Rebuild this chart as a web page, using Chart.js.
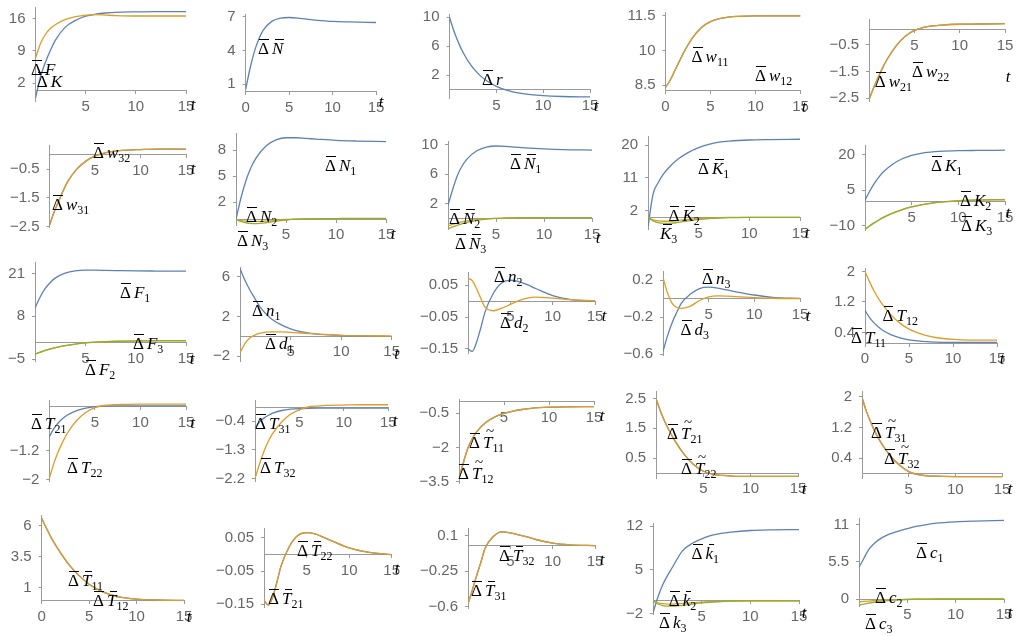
<!DOCTYPE html>
<html><head><meta charset="utf-8">
<script src="https://cdn.jsdelivr.net/npm/chart.js@4.4.1/dist/chart.umd.min.js"></script>
<style>
html,body{margin:0;padding:0;background:#fff;}
#wrap{position:relative;width:1025px;height:636px;overflow:hidden;background:#fff;}
#wrap canvas{position:absolute;}
.lab{position:absolute;font-family:'Liberation Serif','Times New Roman',serif;font-size:17px;line-height:17px;white-space:nowrap;color:#000;}
.d,.s{position:relative;display:inline-block;}
.s{font-style:italic;margin-left:3px;}
.d.b::before{content:'';position:absolute;left:1px;right:0;top:-1px;border-top:1.3px solid #000;}
.s.b::before{content:'';position:absolute;left:3px;right:-1px;top:-1px;border-top:1.3px solid #000;}
.s.tl::after{content:'~';position:absolute;left:3px;top:-11px;font-style:normal;font-size:15px;}
.lab sub{font-size:12px;vertical-align:-4px;line-height:0;}
.tx{position:absolute;font-family:'Liberation Serif','Times New Roman',serif;font-style:italic;font-size:17px;line-height:17px;transform:translate(-50%,-50%);}
</style></head><body><div id="wrap"></div>
<script>
// common time grid
const T = [0,0.5,1,1.5,2,3,4,5,6,7,8,10,12,15];
// row 1
const dK    = [-1.2,3.4,6.6,9.2,11.4,14.2,15.6,16.5,16.95,17.2,17.35,17.45,17.5,17.5];
const dF    = [7.45,10.6,12.6,13.9,14.7,15.8,16.4,16.75,16.85,16.75,16.65,16.55,16.55,16.55];
const dNbar = [0.55,2.4,3.9,5.0,5.8,6.6,6.9,6.95,6.9,6.8,6.72,6.6,6.55,6.5];
const dr    = [10,8.0,6.37,5.04,3.94,2.31,1.22,0.49,0.0,-0.33,-0.55,-0.8,-0.91,-0.97];
const dw11  = [8.4,8.7,9.1,9.5,9.9,10.55,11.0,11.25,11.38,11.45,11.48,11.5,11.5,11.5];
const dw12  = [8.4,8.7,9.1,9.5,9.9,10.55,11.0,11.25,11.38,11.45,11.48,11.5,11.5,11.5];
const dw21  = [-2.55,-2.12,-1.73,-1.37,-1.05,-0.55,-0.2,0.02,0.13,0.19,0.22,0.25,0.26,0.27];
const dw22  = [-2.55,-2.12,-1.73,-1.37,-1.05,-0.55,-0.2,0.02,0.13,0.19,0.22,0.25,0.26,0.27];
// row 2
const dw31  = [-2.45,-2.0,-1.62,-1.25,-0.93,-0.5,-0.22,-0.04,0.06,0.12,0.15,0.18,0.2,0.2];
const dw32  = [-2.45,-2.0,-1.62,-1.25,-0.93,-0.5,-0.22,-0.04,0.06,0.12,0.15,0.18,0.2,0.2];
const dN1   = [0,2.5,4.5,6.0,7.1,8.5,9.2,9.45,9.45,9.38,9.3,9.15,9.07,9.0];
const dN2   = [0,-0.12,-0.2,-0.24,-0.25,-0.2,-0.1,-0.02,0.03,0.06,0.07,0.08,0.08,0.08];
const dN3   = [0,-0.25,-0.4,-0.48,-0.5,-0.4,-0.22,-0.08,0.02,0.06,0.08,0.09,0.1,0.1];
const dNb1  = [1.8,4.0,5.9,7.2,8.1,9.2,9.7,9.85,9.8,9.7,9.6,9.45,9.35,9.3];
const dNb2  = [-1.0,-0.8,-0.6,-0.45,-0.32,-0.15,-0.05,0.02,0.06,0.09,0.1,0.12,0.12,0.12];
const dNb3  = [-1.4,-1.15,-0.9,-0.7,-0.52,-0.27,-0.1,0.0,0.05,0.08,0.1,0.12,0.12,0.12];
const dKb1  = [-2.5,6.5,9.6,11.9,13.6,16.2,18.0,19.3,20.2,20.8,21.1,21.4,21.5,21.6];
const dKb2  = [0,-0.6,-0.9,-1.0,-1.0,-0.8,-0.5,-0.25,-0.1,0,0.05,0.1,0.1,0.1];
const dKb3  = [0,-0.9,-1.4,-1.6,-1.6,-1.3,-0.9,-0.5,-0.25,-0.1,0,0.08,0.1,0.1];
const dK1   = [0.7,4.5,7.8,10.6,12.8,16.0,18.2,19.6,20.5,21.0,21.3,21.6,21.7,21.8];
const dK2   = [-11.5,-10.0,-8.7,-7.5,-6.4,-4.6,-3.2,-2.1,-1.2,-0.6,-0.1,0.5,0.8,0.9];
const dK3   = [-11.6,-10.1,-8.8,-7.6,-6.5,-4.7,-3.25,-2.1,-1.2,-0.55,-0.05,0.55,0.85,1.0];
// row 3
const dF1   = [10.5,13.8,16.4,18.2,19.6,21.1,21.8,22.0,22.0,21.95,21.9,21.8,21.75,21.7];
const dF2   = [-3.5,-2.9,-2.4,-1.95,-1.55,-0.95,-0.45,-0.1,0.1,0.25,0.35,0.45,0.5,0.5];
const dF3   = [-3.6,-3.0,-2.45,-2.0,-1.6,-0.95,-0.45,-0.1,0.12,0.28,0.4,0.52,0.58,0.6];
const dn1   = [6.8,5.6,4.6,3.75,2.9,1.85,1.2,0.75,0.47,0.3,0.19,0.08,0.03,0.0];
const dd1   = [-1.65,-0.7,-0.15,0.15,0.32,0.45,0.45,0.4,0.33,0.26,0.2,0.1,0.05,0.02];
const dn2   = [-0.15,-0.158,-0.13,-0.085,-0.035,0.025,0.058,0.066,0.062,0.052,0.04,0.018,0.006,0.0];
const dd2   = [0.072,0.065,0.04,0.01,-0.018,-0.03,-0.022,-0.01,0.002,0.01,0.013,0.01,0.005,0.001];
const dn3   = [-0.57,-0.4,-0.26,-0.15,-0.05,0.05,0.11,0.125,0.115,0.095,0.075,0.04,0.015,0.003];
const dd3   = [0.23,0.06,-0.05,-0.095,-0.105,-0.08,-0.02,0.02,0.03,0.028,0.022,0.012,0.005,0.001];
const dT11  = [0.98,0.8,0.66,0.55,0.46,0.34,0.26,0.21,0.18,0.16,0.15,0.14,0.14,0.14];
const dT12  = [2.0,1.74,1.5,1.3,1.13,0.85,0.64,0.49,0.39,0.32,0.27,0.22,0.2,0.2];
// row 4
const dT21  = [-0.82,-0.6,-0.44,-0.32,-0.23,-0.11,-0.04,0.0,0.015,0.02,0.02,0.02,0.02,0.02];
const dT22  = [-1.96,-1.55,-1.22,-0.95,-0.72,-0.38,-0.16,-0.03,0.03,0.05,0.06,0.07,0.07,0.07];
const dT31  = [-0.6,-0.42,-0.3,-0.21,-0.14,-0.06,-0.02,0.0,0.01,0.015,0.015,0.015,0.015,0.015];
const dT32  = [-2.2,-1.75,-1.35,-1.03,-0.78,-0.42,-0.18,-0.03,0.05,0.08,0.1,0.11,0.12,0.12];
const dTt11 = [-3.36,-2.65,-2.02,-1.6,-1.3,-0.9,-0.66,-0.51,-0.41,-0.34,-0.29,-0.24,-0.22,-0.21];
const dTt12 = [-3.36,-2.65,-2.02,-1.6,-1.3,-0.9,-0.66,-0.51,-0.41,-0.34,-0.29,-0.24,-0.22,-0.21];
const dTt21 = [2.5,2.05,1.68,1.36,1.08,0.62,0.28,0.06,-0.04,-0.08,-0.1,-0.11,-0.11,-0.11];
const dTt22 = [2.5,2.05,1.68,1.36,1.08,0.62,0.28,0.06,-0.04,-0.08,-0.1,-0.11,-0.11,-0.11];
const dTt31 = [1.98,1.6,1.3,1.04,0.82,0.47,0.22,0.05,-0.03,-0.06,-0.07,-0.08,-0.08,-0.08];
const dTt32 = [1.98,1.6,1.3,1.04,0.82,0.47,0.22,0.05,-0.03,-0.06,-0.07,-0.08,-0.08,-0.08];
// row 5
const dTb11 = [6.6,5.8,5.05,4.4,3.8,2.75,1.95,1.3,0.85,0.52,0.3,0.1,0.03,0.0];
const dTb12 = [6.6,5.8,5.05,4.4,3.8,2.75,1.95,1.3,0.85,0.52,0.3,0.1,0.03,0.0];
const dTb21 = [-0.138,-0.152,-0.13,-0.085,-0.035,0.025,0.058,0.066,0.062,0.052,0.041,0.02,0.008,0.0];
const dTb22 = [-0.138,-0.152,-0.13,-0.085,-0.035,0.025,0.058,0.066,0.062,0.052,0.041,0.02,0.008,0.0];
const dTb31 = [-0.57,-0.44,-0.3,-0.17,-0.03,0.09,0.135,0.125,0.105,0.085,0.06,0.025,0.008,0.0];
const dTb32 = [-0.57,-0.44,-0.3,-0.17,-0.03,0.09,0.135,0.125,0.105,0.085,0.06,0.025,0.008,0.0];
const dk1   = [-1.9,0.6,2.6,4.1,5.4,8.0,9.2,9.95,10.5,10.85,11.05,11.3,11.4,11.45];
const dk2   = [0,-0.3,-0.45,-0.5,-0.5,-0.42,-0.3,-0.2,-0.12,-0.06,-0.03,0,0.01,0.01];
const dk3   = [0,-0.5,-0.75,-0.85,-0.85,-0.7,-0.5,-0.32,-0.2,-0.1,-0.05,0,0.01,0.01];
const dc1   = [4.7,6.0,7.3,8.1,8.7,9.5,10.0,10.4,10.75,11.0,11.2,11.4,11.5,11.6];
const dc2   = [-0.4,-0.33,-0.27,-0.22,-0.18,-0.1,-0.05,-0.02,0,0.01,0.02,0.02,0.02,0.02];
const dc3   = [-0.9,-0.72,-0.57,-0.45,-0.35,-0.2,-0.1,-0.04,0,0.02,0.03,0.03,0.03,0.03];

// tick label sets
const X3 = [5,10,15], X4 = [0,5,10,15];

const COLORS = {b:'#5E81B5', o:'#E19C24', g:'#8FB032'};
const ORDER = {b:3, o:2, g:1};

// panel layout: rect = [left, top, right, bottom] of plot area
const PANELS = [
 {rect:[35.5,5,186,101], y:[-1.85,18.5], ax:0.36, yt:[2,9,16], xt:X3, t:[193,104], s:[[dK,'b'],[dF,'o']],
  lab:[[31,64,'F'],[36.7,76,'K']]},
 {rect:[245.7,12,376,91.7], y:[0.33,7.26], ax:0.33, yt:[1,4,7], xt:X4, t:[381,101], s:[[dNbar,'b']],
  lab:[[258,43,'N','','b']]},
 {rect:[449.5,12.7,590,98], y:[-1.12,10.45], ax:0, yt:[2,6,10], xt:X3, t:[596,105], s:[[dr,'b']],
  lab:[[482,74,'r']]},
 {rect:[665.5,10,800.5,90.7], y:[8.26,11.67], ax:8.26, yt:[8.5,10,11.5], xt:X4, t:[804,106], s:[[dw11,'b'],[dw12,'o']],
  lab:[[691.6,51,'w','11'],[755,70,'w','12']]},
 {rect:[869,17.3,1005,101], y:[-2.6,0.445], ax:0.06, yt:[-2.5,-1.5,-0.5], xt:X3, t:[1008,76], s:[[dw21,'b'],[dw22,'o']],
  lab:[[874.7,76,'w','21'],[912,66,'w','22']]},

 {rect:[49.5,143.3,186,227.3], y:[-2.52,0.34], ax:0, yt:[-2.5,-1.5,-0.5], xt:X3, t:[193,168], s:[[dw31,'b'],[dw32,'o']],
  lab:[[52,199,'w','31'],[93,147,'w','32']]},
 {rect:[236,131.7,386,225], y:[-0.66,10.0], ax:0, yt:[2,5,8], xt:X3, t:[393,233], s:[[dN1,'b'],[dN2,'o'],[dN3,'g']],
  lab:[[325,160,'N','1'],[246,211,'N','2'],[237,235,'N','3']]},
 {rect:[448,139.3,592,229.5], y:[-1.5,10.53], ax:0, yt:[2,6,10], xt:X3, t:[598,237], s:[[dNb1,'b'],[dNb2,'o'],[dNb3,'g']],
  lab:[[510,158,'N','1','b'],[449,213,'N','2','b'],[455,238,'N','3','b']]},
 {rect:[648,134,800,229], y:[-3.13,22.5], ax:0, yt:[2,11,20], xt:X3, t:[807,232], s:[[dKb1,'b'],[dKb2,'o'],[dKb3,'g']],
  lab:[[698,163,'K','1','b'],[668.5,210,'K','2','b'],[660,228,'K','3','bn']]},
 {rect:[865,143.3,1005,230], y:[-11.8,24.0], ax:0, yt:[-10,5,20], xt:X3, t:[1008,212], s:[[dK1,'b'],[dK2,'o'],[dK3,'g']],
  lab:[[931,160,'K','1'],[960,195,'K','2'],[961,220,'K','3']]},

 {rect:[35,260,186,361], y:[-5.6,24.5], ax:0, yt:[-5,8,21], xt:X3, t:[192,357.7], s:[[dF1,'b'],[dF2,'o'],[dF3,'g']],
  lab:[[120,287,'F','1'],[133,338,'F','3'],[85,364,'F','2']]},
 {rect:[240,265.7,391.7,361], y:[-2.48,6.96], ax:0, yt:[-2,2,6], xt:X3, t:[396.7,353], s:[[dn1,'b'],[dd1,'o']],
  lab:[[252,305,'n','1'],[265,338,'d','1']]},
 {rect:[468,270,595,353], y:[-0.163,0.092], ax:0, yt:[-0.15,-0.05,0.05], xt:X3, t:[604,315], s:[[dn2,'b'],[dd2,'o']],
  lab:[[494,271,'n','2'],[500,317,'d','2']]},
 {rect:[663,269,800,355], y:[-0.61,0.3], ax:0, yt:[-0.6,-0.2,0.2], xt:X3, t:[808,315], s:[[dn3,'b'],[dd3,'o']],
  lab:[[702,273,'n','3'],[680.6,324,'d','3']]},
 {rect:[865,266.7,997,343.3], y:[0.118,2.09], ax:0.118, yt:[0.4,1.2,2], xt:X4, t:[1002,358], s:[[dT11,'b'],[dT12,'o']],
  lab:[[882.5,310,'T','12'],[851,332,'T','11']]},

 {rect:[49.3,398.3,186,481.7], y:[-2.05,0.18], ax:0, yt:[-2,-1.2], xt:X3, t:[192.7,421.7], s:[[dT21,'b'],[dT22,'o']],
  lab:[[31,418,'T','21'],[67,462,'T','22']]},
 {rect:[255,398.3,388.3,481.7], y:[-2.3,0.27], ax:0.04, yt:[-2.2,-1.3,-0.4], xt:X3, t:[395,420], s:[[dT31,'b'],[dT32,'o']],
  lab:[[255,418,'T','31'],[260,462,'T','32']]},
 {rect:[459,397.3,594,483], y:[-3.56,0.12], ax:0, yt:[-3.5,-2,-0.5], xt:X3, t:[602,415], s:[[dTt11,'b'],[dTt12,'o']],
  lab:[[469,437,'T','11','t'],[458,468,'T','12','t']]},
 {rect:[656,389,798,478], y:[-0.165,2.75], ax:0, yt:[0.5,1.5,2.5], xt:X3, t:[804,488], s:[[dTt21,'b'],[dTt22,'o']],
  lab:[[667,428,'T','21','t'],[681,463,'T','22','t']]},
 {rect:[862,389,1002,478], y:[-0.117,2.15], ax:0, yt:[0.4,1.2,2], xt:X3, t:[1010,488], s:[[dTt31,'b'],[dTt32,'o']],
  lab:[[871,427,'T','31','t'],[884,453,'T','32','t']]},

 {rect:[41.7,513.3,184,601], y:[-0.05,6.87], ax:0, yt:[1,3.5,6], xt:X4, t:[189,615.7], s:[[dTb11,'b'],[dTb12,'o']],
  lab:[[68,575,'T','11','b'],[93,595,'T','12','b']]},
 {rect:[264,526.7,391.7,607], y:[-0.158,0.08], ax:0, yt:[-0.15,-0.05,0.05], xt:X3, t:[397,568], s:[[dTb21,'b'],[dTb22,'o']],
  lab:[[297,545,'T','22','b'],[268,593,'T','21','b']]},
 {rect:[468,526.7,595,608], y:[-0.613,0.173], ax:0, yt:[-0.6,-0.25,0.1], xt:X3, t:[602,559], s:[[dTb31,'b'],[dTb32,'o']],
  lab:[[499,550,'T','32','b'],[471,585,'T','31','b']]},
 {rect:[653,521,799,614], y:[-2.1,12.5], ax:0, yt:[-2,5,12], xt:X3, t:[804,611.7], s:[[dk1,'b'],[dk2,'o'],[dk3,'g']],
  lab:[[691.6,548,'k','1','b'],[668.8,595,'k','2','b'],[659,617,'k','3']]},
 {rect:[859,516.7,1004,606], y:[-1.0,11.96], ax:0, yt:[0,5.5,11], xt:X3, t:[1010,611.7], s:[[dc1,'b'],[dc2,'o'],[dc3,'g']],
  lab:[[916,547,'c','1'],[875,592,'c','2'],[865,618,'c','3']]}
];

const fmt = v => String(Math.round(v*1000)/1000).replace('-', '\u2212');
const TICKFONT = {family:"'Liberation Sans Narrow','Liberation Sans',Arial,sans-serif", size:15};
const wrap = document.getElementById('wrap');

function labHTML(sym, sub, fl) {
  fl = fl || '';
  const noD = fl.includes('n');
  let h = noD ? '' : '<span class="d b">\u0394</span>';
  const cls = 's' + (fl.includes('b') ? ' b' : '') + (fl.includes('t') ? ' tl' : '');
  h += '<span class="' + cls + '"' + (noD ? ' style="margin-left:0"' : '') + '>' + sym + '</span>';
  if (sub) h += '<sub>' + sub + '</sub>';
  return h;
}

PANELS.forEach(p => {
  const [L, Tp, R, B] = p.rect;
  const cl = Math.floor(L - 50), ct = Math.floor(Tp - 14);
  const w = Math.ceil(R + 24) - cl, h = Math.ceil(B + 30) - ct;
  const padL = L - cl;
  const cv = document.createElement('canvas');
  cv.width = w; cv.height = h;
  cv.style.left = cl + 'px'; cv.style.top = ct + 'px';
  cv.style.width = w + 'px'; cv.style.height = h + 'px';
  wrap.appendChild(cv);
  new Chart(cv, {
    type: 'line',
    data: {datasets: p.s.map(([arr, c]) => ({
      data: T.map((t, i) => ({x: t, y: arr[i]})),
      borderColor: COLORS[c], borderWidth: 1.3, pointRadius: 0, fill: false,
      cubicInterpolationMode: 'monotone', order: ORDER[c]
    }))},
    options: {
      responsive: false, animation: false, devicePixelRatio: 1,
      layout: {padding: {left: 0, top: Tp - ct, right: (cl + w) - R, bottom: (ct + h) - B}},
      plugins: {legend: {display: false}, tooltip: {enabled: false}},
      events: [],
      scales: {
        x: {type: 'linear', min: 0, max: 15, bounds: 'data', position: {y: p.ax},
            afterBuildTicks: s => { s.ticks = p.xt.map(v => ({value: v})); },
            afterFit: s => { s.height = 0; },
            grid: {drawOnChartArea: false, tickLength: 3, color: '#9a9a9a'},
            border: {color: '#9a9a9a', width: 1},
            ticks: {font: TICKFONT, color: '#666', padding: 4, maxRotation: 0, minRotation: 0, autoSkip: false, callback: v => fmt(v)}},
        y: {type: 'linear', min: p.y[0], max: p.y[1], bounds: 'data', position: 'left',
            afterBuildTicks: s => { s.ticks = p.yt.map(v => ({value: v})); },
            afterFit: s => { s.width = padL; },
            grid: {drawOnChartArea: false, tickLength: 3, color: '#9a9a9a'},
            border: {color: '#9a9a9a', width: 1},
            ticks: {font: TICKFONT, color: '#666', padding: 7, autoSkip: false, callback: v => fmt(v)}}
      }
    }
  });
  p.lab.forEach(([x, y, sym, sub, fl]) => {
    const d = document.createElement('div');
    d.className = 'lab';
    d.style.left = x + 'px'; d.style.top = (y - 3) + 'px';
    d.innerHTML = labHTML(sym, sub, fl);
    wrap.appendChild(d);
  });
  const tl = document.createElement('div');
  tl.className = 'tx'; tl.textContent = 't';
  tl.style.left = p.t[0] + 'px'; tl.style.top = p.t[1] + 'px';
  wrap.appendChild(tl);
});
</script></body></html>
